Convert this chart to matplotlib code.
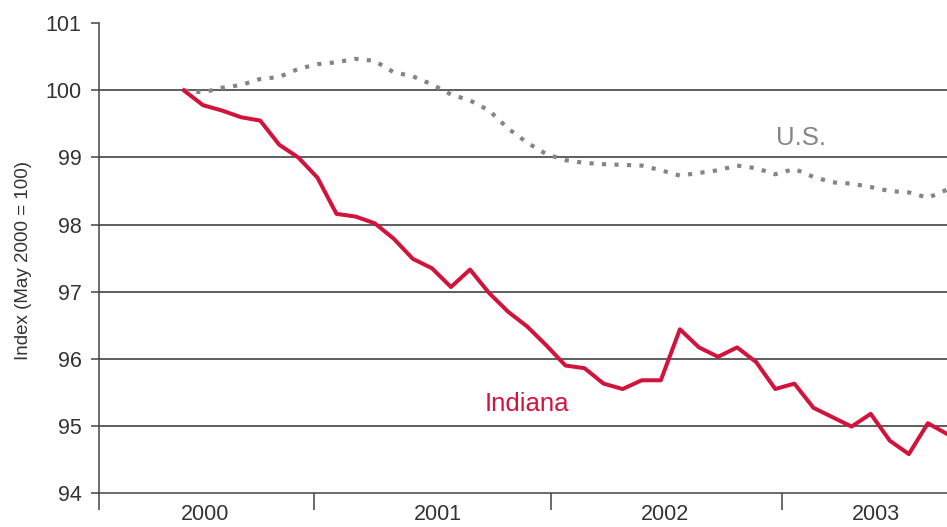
import matplotlib
matplotlib.use("Agg")
import matplotlib.pyplot as plt
import numpy as np

# month index, Jan 2000 = 0; series run May 2000 .. Sep 2003
months = np.arange(4, 45)

indiana = [100.0, 99.78, 99.70, 99.60, 99.55, 99.19, 99.00, 98.70, 98.16, 98.12,
           98.02, 97.79, 97.49, 97.35, 97.07, 97.33, 96.98, 96.70, 96.48, 96.20,
           95.90, 95.86, 95.63, 95.55, 95.68, 95.68, 96.44, 96.17, 96.03, 96.17,
           95.95, 95.55, 95.63, 95.27, 95.13, 94.99, 95.18, 94.78, 94.58, 95.04,
           94.88]

us = [100.0, 99.97, 100.04, 100.08, 100.17, 100.20, 100.32, 100.39, 100.42, 100.47,
      100.44, 100.27, 100.21, 100.09, 99.94, 99.85, 99.70, 99.43, 99.22, 99.05,
      98.96, 98.92, 98.90, 98.89, 98.88, 98.81, 98.73, 98.77, 98.81, 98.88,
      98.84, 98.75, 98.83, 98.71, 98.63, 98.61, 98.56, 98.50, 98.48, 98.40,
      98.52]

year_labels = ["2000", "2001", "2002", "2003"]
year_label_pos = [5.1, 17.3, 29.2, 40.25]
year_edges = [10.8, 23.25, 35.35]
y_ticks = [94, 95, 96, 97, 98, 99, 100, 101]

RED = "#d2143c"
GRAY = "#858585"
INK = "#333333"
AXIS = "#444444"

plt.rcParams["font.family"] = ["Liberation Sans", "DejaVu Sans"]

fig = plt.figure(figsize=(9.47, 5.27), dpi=100)
ax = fig.add_axes([0.1045, 0.0645, 0.8955, 0.8913])

# horizontal rules (no rule at the top value)
for v in y_ticks[1:-1]:
    ax.axhline(v, color="#333333", lw=1.1, zorder=1)

ax.plot(months, us, color=GRAY, lw=3.0, linestyle=(0, (1, 2)),
        dash_capstyle="butt", zorder=2)
ax.plot(months, indiana, color=RED, lw=2.9, zorder=3)

ax.set_xlim(-0.45, 44.0)
ax.set_ylim(94, 101)

for s in ["top", "right"]:
    ax.spines[s].set_visible(False)
for s in ["left", "bottom"]:
    ax.spines[s].set_color(AXIS)
    ax.spines[s].set_linewidth(1.1)

ax.set_yticks(y_ticks)
ax.tick_params(axis="y", direction="out", length=6, width=1.1, color=AXIS,
               labelsize=15.5, labelcolor=INK, pad=6.5)

ax.set_xticks([-0.45] + year_edges)
ax.set_xticklabels([])
ax.tick_params(axis="x", which="major", direction="out", length=12, width=1.1,
               color=AXIS)
ax.set_xticks(year_label_pos, minor=True)
ax.set_xticklabels(year_labels, minor=True)
ax.tick_params(axis="x", which="minor", length=0, labelsize=15.5,
               labelcolor=INK, pad=8.2)

ax.set_ylabel("Index (May 2000 = 100)", fontsize=13.5, color=INK)
ax.yaxis.set_label_coords(-0.079, 0.494)

ax.text(19.75, 95.215, "Indiana", color=RED, fontsize=18.5, ha="left", va="baseline")
ax.text(35.03, 99.19, "U.S.", color=GRAY, fontsize=18.5, ha="left", va="baseline")

fig.savefig("out.png", dpi=100)
